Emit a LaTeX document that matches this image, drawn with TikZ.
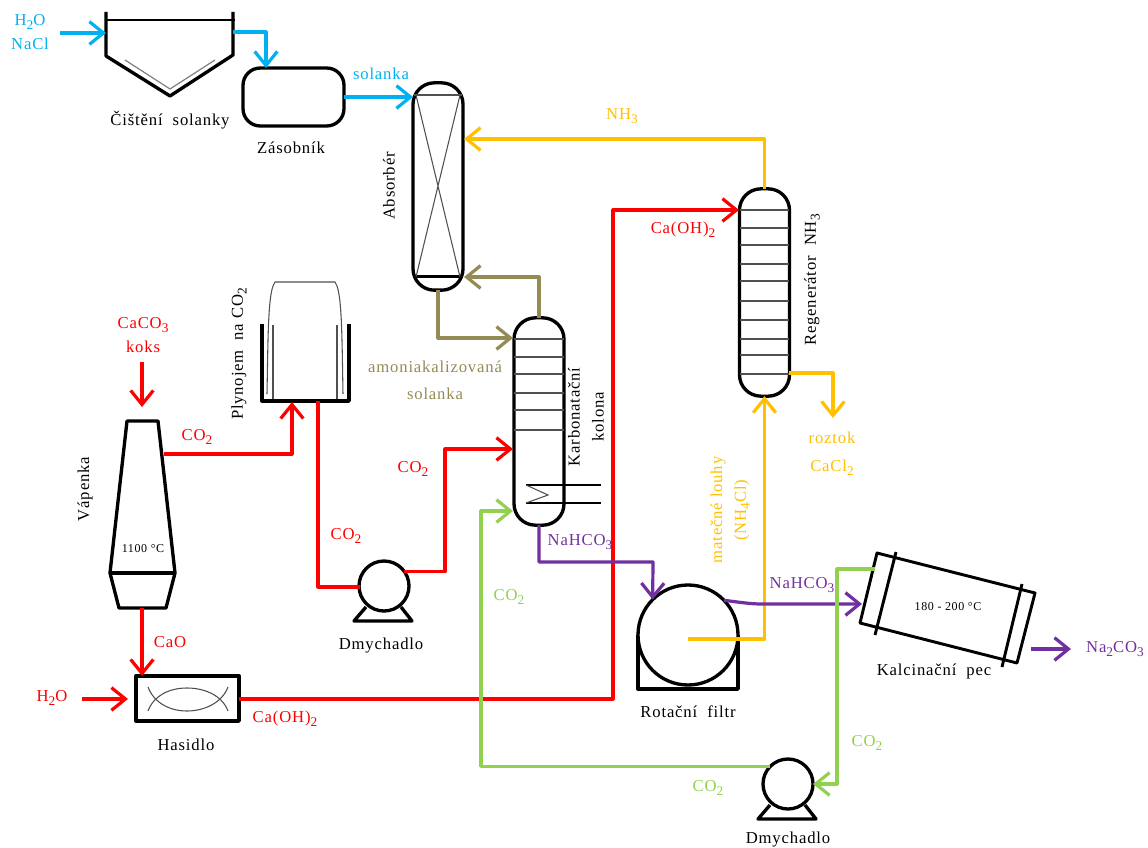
\documentclass[tikz,border=0pt]{standalone}
\usepackage{fontspec}
\setmainfont[LetterSpace=5]{Liberation Serif}
\usetikzlibrary{arrows.meta}
\definecolor{cblue}{HTML}{00B0F0}
\definecolor{cred}{HTML}{FF0000}
\definecolor{cyel}{HTML}{FFC000}
\definecolor{coli}{HTML}{948A54}
\definecolor{cgrn}{HTML}{92D050}
\definecolor{cpur}{HTML}{7030A0}
\definecolor{cthin}{HTML}{505050}
\newcommand{\lo}[1]{\raisebox{-0.5ex}{\fontsize{10}{10}\selectfont #1}}
\tikzset{
  flow/.style={line width=2.4pt,line join=round,color=#1},
  flowa/.style={flow=#1,-{Straight Barb[length=10.5pt,width=17pt,line width=2.4pt]}},
  equip/.style={draw=black,line width=2.5pt,line join=round},
  thinl/.style={draw=cthin,line width=0.8pt},
  trayl/.style={draw=cthin,line width=1pt},
  column/.style={equip,rectangle,rounded corners=16pt,minimum width=37.5pt,minimum height=155.5pt,inner sep=0,outer sep=0},
  ball/.style={equip,circle,inner sep=0,outer sep=0},
  lab/.style={font=\fontsize{12.5}{14}\selectfont,align=center,inner sep=0,text=#1},
  lab/.default=black,
  tiny lab/.style={font=\fontsize{9}{10}\selectfont,inner sep=0,text=black}
}
\begin{document}
\begin{tikzpicture}[x=0.75pt,y=-0.75pt]
\useasboundingbox (0,0) rectangle (1148,848);

% ---------- equipment ----------
% brine purification tank
\coordinate (tankTL) at (106,12);
\coordinate (tankTR) at (233,12);
\coordinate (tankIn) at (106,33);
\coordinate (tankOut) at (233,32);
\draw[equip] (tankTL) -- (106,56) -- (170,96) -- (233,55) -- (tankTR);
\draw[draw=black,line width=.8pt] (106,20) -- (235,20);
\draw[draw=gray,line width=.9pt] (125,60) -- (170,89) -- (215,60);
% storage
\node[equip,rectangle,rounded corners=13pt,minimum width=75.75pt,minimum height=43.5pt,inner sep=0,outer sep=0] (zas) at (293.5,97) {};
% absorber
\node[column] (abs) at (438,186.5) {};
\draw[trayl] (414,95) -- (462,95);
\draw[draw=black,line width=2.25pt] (414,277) -- (462,277);
\draw[thinl] (416,95) -- (460,277) (460,95) -- (416,277);
% carbonation column
\node[column] (kar) at (539,421.5) {};
\foreach \yy in {339,357,374,393,410,430} \draw[trayl] (514,\yy) -- (564,\yy);
\draw[draw=black,line width=.8pt] (526,485) -- (601,485) (526,503) -- (601,503);
\draw[thinl] (526,485) -- (548,495) -- (526,503);
% regenerator
\node[column] (reg) at (764.5,292.5) {};
\foreach \yy in {210,228,245,264,281,301,320,339,355,374} \draw[trayl] (740,\yy) -- (789,\yy);
% gas holder
\coordinate (gasIn) at (292,402);
\coordinate (gasOut) at (318,401);
\draw[equip] (262,324) -- (262,401) -- (349,401) -- (349,324);
\draw[thinl] (267,394) .. controls (268,340) and (268,300) .. (273,286) -- (275,282) -- (335,282) -- (337,286) .. controls (342,300) and (342,340) .. (343,394);
\draw[thinl] (273,325) -- (273,399) (337,325) -- (337,399);
% lime kiln
\coordinate (kilnIn) at (142,407);
\coordinate (kilnOut) at (164,454);
\coordinate (kilnBot) at (142,608);
\draw[equip] (127,421) -- (158,421) -- (175,573) -- (166,608) -- (119,608) -- (110,573) -- cycle;
\draw[equip] (110,573) -- (175,573);
% slaker
\node[equip,rectangle,minimum width=77.25pt,minimum height=33.75pt,inner sep=0,outer sep=0] (has) at (187.5,698.5) {};
\draw[thinl] (148,687) .. controls (154,703) and (170,711) .. (187,711) .. controls (204,711) and (222,703) .. (228,687);
\draw[thinl] (148,711) .. controls (154,695) and (170,688) .. (187,688) .. controls (204,688) and (222,695) .. (228,711);
% blowers
\node[ball,minimum size=37.5pt] (b1) at (384,586) {};
\draw[equip] (366,607) -- (354,621) -- (412,621) -- (401,607);
\node[ball,minimum size=37.5pt] (b2) at (788,784) {};
\draw[equip] (770,805) -- (758,819) -- (816,819) -- (805,805);
% rotary filter
\draw[equip] (638,635) -- (638,689) -- (738,689) -- (738,635);
\node[ball,minimum size=75pt,fill=white] (filt) at (688,635) {};
% calciner
\coordinate (calGreen) at (875,569);
\coordinate (calIn) at (862,604);
\coordinate (calOut) at (1031,649);
\draw[equip,line width=2.2pt] (877,553) -- (1035,593) -- (1017,663) -- (860,623) -- cycle;
\draw[equip,line width=2.2pt] (896,552) -- (875,635);
\draw[equip,line width=2.2pt] (1022,584) -- (1002,667);

% ---------- free ends and bends ----------
\coordinate (inBrine) at (60,33);
\coordinate (bendB) at (266,32);
\coordinate (nhIn) at (464,139);
\coordinate (oliIn) at (464,277);
\coordinate (oliKar) at (513,338);
\coordinate (regIn) at (739,210);
\coordinate (redA) at (613,699);
\coordinate (redB) at (613,210);
\coordinate (regOut) at (789,373);
\coordinate (bendY) at (833,373);
\coordinate (endY) at (833,418);
\coordinate (filtY) at (688,639);
\coordinate (bendM) at (764.5,639);
\coordinate (inKiln) at (142,362);
\coordinate (inHas) at (82,699);
\coordinate (hasIn) at (128,699);
\coordinate (bendG1) at (292,454);
\coordinate (bendR) at (318,587);
\coordinate (pumpIn) at (360,587);
\coordinate (bendR3) at (445,449);
\coordinate (karR) at (513,449);
\coordinate (karG) at (513,511);
\coordinate (bendG2) at (481,511);
\coordinate (bendP1) at (539,562);
\coordinate (bendP2) at (653,562);
\coordinate (bendC1) at (837,569);
\coordinate (bendC2) at (837,784);
\coordinate (midP) at (762,604);
\coordinate (naEnd) at (1071,649);

% ---------- connectors ----------
\draw[flowa=cblue] (inBrine) -- (tankIn);
\draw[flowa=cblue] (tankOut) -- (bendB) -- (bendB |- zas.north);
\draw[flowa=cblue] (zas.east) -- (abs.west |- zas.east);
\draw[flowa=cyel] (reg.north) |- (nhIn);
\draw[flowa=coli] (abs.south) |- (oliKar);
\draw[flowa=coli] (kar.north) |- (oliIn);
\draw[flowa=cred] (has.east |- hasIn) -- (redA) -- (redB) -- (regIn);
\draw[flowa=cyel] (regOut) -- (bendY) -- (endY);
\draw[flowa=cyel] (filtY) -- (bendM) -- (reg.south);
\draw[flowa=cred] (inKiln) -- (kilnIn);
\draw[flowa=cred] (kilnBot) -- (kilnBot |- has.north);
\draw[flowa=cred] (inHas) -- (hasIn);
\draw[flowa=cred] (kilnOut) -- (bendG1) -- (gasIn);
\draw[flow=cred] (gasOut) -- (bendR) -- (pumpIn);
\draw[flowa=cred] (b1.35) -| (bendR3) -- (karR);
\draw[flowa=cpur] (kar.south) -- (bendP1) -- (bendP2) -- (filt.135);
\draw[flowa=cpur] (filt.44) .. controls (745,603) and (752,604) .. (midP) -- (calIn);
\draw[flowa=cpur] (calOut) -- (naEnd);
\draw[flowa=cgrn] (calGreen) -- (bendC1) -- (bendC2) -- (b2.east);
\draw[flowa=cgrn] (b2.135) -| (bendG2) -- (karG);

% ---------- labels ----------
\node[lab=cblue] (t1) at (30,32) {H\lo{2}O\\[4pt]NaCl};
\node[lab] (t2) at (170,120) {Čištění\ \ solanky};
\node[lab] (t3) at (291,148) {Zásobník};
\node[lab=cblue] (t4) at (381,74) {solanka};
\node[lab,rotate=90] (t5) at (389,186) {Absorbér};
\node[lab=cyel] (t6) at (622,116) {NH\lo{3}};
\node[lab=cred] (t7) at (683,230) {Ca(OH)\lo{2}};
\node[lab,rotate=90] (t8) at (812,280) {Regenerátor\ \ NH\lo{3}};
\node[lab=cyel] (t9) at (832,454) {roztok\\[7pt]CaCl\lo{2}};
\node[lab=cyel,rotate=90] (t10) at (718,510) {matečné louhy};
\node[lab=cyel,rotate=90] (t11) at (742,510) {(NH\lo{4}Cl)};
\node[lab=coli] (t12) at (435,380) {amoniakalizovaná\\[6pt]solanka};
\node[lab,rotate=90] (t13) at (574,417) {Karbonatační};
\node[lab,rotate=90] (t14) at (598,417) {kolona};
\node[lab,rotate=90] (t15) at (239,354) {Plynojem\ \ na\ CO\lo{2}};
\node[lab=cred] (t16) at (197,437) {CO\lo{2}};
\node[lab=cred] (t17) at (346,536) {CO\lo{2}};
\node[lab=cred] (t18) at (413,469) {CO\lo{2}};
\node[lab=cred] (t19) at (143,335) {CaCO\lo{3}\\[4pt]koks};
\node[lab,rotate=90] (t20) at (85,489) {Vápenka};
\node[tiny lab] (t21) at (143,549) {1100 °C};
\node[lab=cred] (t22) at (170,642) {CaO};
\node[lab=cred] (t23) at (52,698) {H\lo{2}O};
\node[lab=cred] (t24) at (285,719) {Ca(OH)\lo{2}};
\node[lab] (t25) at (186,745) {Hasidlo};
\node[lab] (t26) at (381,646) {Dmychadlo};
\node[lab] (t27) at (788,840) {Dmychadlo};
\node[lab=cpur] (t28) at (580,542) {NaHCO\lo{3}};
\node[lab=cpur] (t29) at (802,585) {NaHCO\lo{3}};
\node[lab=cgrn] (t30) at (509,597) {CO\lo{2}};
\node[lab=cgrn] (t31) at (867,743) {CO\lo{2}};
\node[lab=cgrn] (t32) at (708,788) {CO\lo{2}};
\node[lab] (t33) at (688,712) {Rotační\ \ filtr};
\node[lab] (t34) at (934,671) {Kalcinační\ \ pec};
\node[tiny lab] (t35) at (948,607) {180 - 200 °C};
\node[lab=cpur] (t36) at (1115,649) {Na\lo{2}CO\lo{3}};
\end{tikzpicture}
\end{document}
